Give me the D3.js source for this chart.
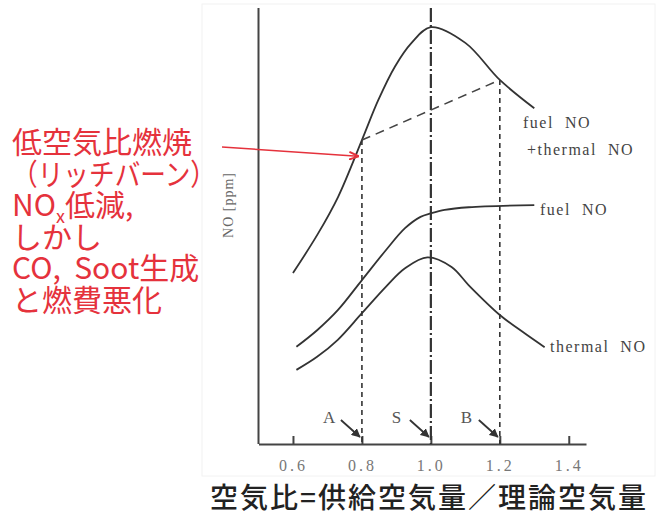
<!DOCTYPE html>
<html>
<head>
<meta charset="utf-8">
<script src="https://cdn.jsdelivr.net/npm/d3@7"></script>
<style>
  body { margin: 0; background: #fff; }
  svg { display: block; }
</style>
</head>
<body>
<svg id="chart" width="661" height="517"></svg>
<script>
// air ratio ticks
const xTicks = [0.6, 0.8, 1.0, 1.2, 1.4];

// fuel NO + thermal NO
const combinedX = [0.6, 0.673, 0.731, 0.8, 0.847, 0.896, 0.944, 1.0, 1.1, 1.2, 1.3];
const combinedNO = [39.2, 48.3, 56.7, 69.7, 78.8, 86.6, 92, 95.6, 92, 83.5, 77];

// fuel NO
const fuelX = [0.61, 0.67, 0.73, 0.8, 0.87, 0.925, 0.97, 1.0, 1.04, 1.11, 1.3];
const fuelNO = [22.3, 26.1, 30.7, 37.6, 44.5, 49.5, 52.1, 52.9, 53.7, 54.3, 54.8];

// thermal NO
const thermalX = [0.61, 0.67, 0.73, 0.8, 0.87, 0.925, 0.99, 1.06, 1.11, 1.2, 1.27, 1.33];
const thermalNO = [17, 20, 23.9, 30, 36.1, 40.3, 42.8, 40.6, 36.4, 29.6, 25.5, 22.2];

// dashed line between A and B on the combined curve
const abX = [0.8, 1.2];
const abNO = [69.7, 83.5];

// marker lines A, S, B
const markers = [
  { name: 'A', x: 0.8, top: 69.7, dash: '5,4' },
  { name: 'S', x: 1.0, top: 100, dash: '14,3,2,3' },
  { name: 'B', x: 1.2, top: 83.5, dash: '5,4' }
];

const redLines = ['低空気比燃焼', '（リッチバーン）', 'NOx低減,', 'しかし', 'CO,  Soot生成', 'と燃費悪化'];

const svg = d3.select('#chart');
const ink = '#333';
const red = '#e5323c';
const serif = '"Liberation Serif", "DejaVu Serif", serif';
const jp = '"Noto Sans CJK JP", sans-serif';

const x = d3.scaleLinear().domain([0.5, 1.45]).range([258.5, 586]);
const y = d3.scaleLinear().domain([0, 100]).range([444, 8]);

// faint scan border
svg.append('rect')
  .attr('x', 202).attr('y', 4).attr('width', 453).attr('height', 472)
  .attr('fill', 'none').attr('stroke', '#f2f2f2').attr('stroke-width', 1);

// x axis with inward ticks
const xAxis = svg.append('g')
  .attr('transform', `translate(0,${y(0)})`)
  .call(d3.axisBottom(x).tickValues(xTicks).tickSizeInner(-8).tickSizeOuter(0)
    .tickPadding(16).tickFormat(d3.format('.1f')));
xAxis.select('.domain').attr('stroke', '#444').attr('stroke-width', 2);
xAxis.selectAll('.tick line').attr('stroke', '#444').attr('stroke-width', 2);
xAxis.selectAll('.tick text')
  .attr('font-family', serif)
  .attr('font-size', 16).attr('letter-spacing', 3).attr('fill', '#777');

// y axis line (no ticks)
svg.append('line')
  .attr('x1', x(0.5)).attr('x2', x(0.5))
  .attr('y1', y(100)).attr('y2', y(0))
  .attr('stroke', '#444').attr('stroke-width', 2);

svg.append('text')
  .attr('transform', `translate(233,205) rotate(-90)`)
  .attr('text-anchor', 'middle')
  .attr('font-family', serif)
  .attr('font-size', 14).attr('letter-spacing', 1).attr('fill', '#666')
  .text('NO [ppm]');

// vertical marker lines
svg.selectAll('.marker')
  .data(markers)
  .join('line')
  .attr('class', 'marker')
  .attr('x1', d => x(d.x)).attr('x2', d => x(d.x))
  .attr('y1', d => y(d.top)).attr('y2', y(0))
  .attr('stroke', ink)
  .attr('stroke-width', d => d.name === 'S' ? 2.2 : 1.6)
  .attr('stroke-dasharray', d => d.dash);

// curves
const line = d3.line().x(d => x(d[0])).y(d => y(d[1])).curve(d3.curveCatmullRom.alpha(0.5));
const series = [
  d3.zip(combinedX, combinedNO),
  d3.zip(fuelX, fuelNO),
  d3.zip(thermalX, thermalNO)
];
svg.selectAll('.curve')
  .data(series)
  .join('path')
  .attr('class', 'curve')
  .attr('d', line)
  .attr('fill', 'none')
  .attr('stroke', ink)
  .attr('stroke-width', 1.8);

// A-B dashed chord
svg.append('path')
  .attr('d', d3.line().x(d => x(d[0])).y(d => y(d[1]))(d3.zip(abX, abNO)))
  .attr('fill', 'none')
  .attr('stroke', '#444')
  .attr('stroke-width', 1.6)
  .attr('stroke-dasharray', '9,6');

// curve labels
const curveLabels = [
  { t: 'fuel  NO', x: 523, y: 128 },
  { t: '+thermal  NO', x: 527, y: 155 },
  { t: 'fuel  NO', x: 540, y: 215 },
  { t: 'thermal  NO', x: 550, y: 352 }
];
svg.selectAll('.clabel')
  .data(curveLabels)
  .join('text')
  .attr('class', 'clabel')
  .attr('x', d => d.x).attr('y', d => d.y)
  .attr('font-family', serif).attr('font-size', 16)
  .attr('letter-spacing', 1.5)
  .attr('fill', '#444')
  .style('white-space', 'pre')
  .text(d => d.t);

// A / S / B labels with small arrows
const arrowDefs = svg.append('defs');
arrowDefs.append('marker')
  .attr('id', 'blk').attr('viewBox', '0 0 10 10').attr('refX', 9).attr('refY', 5)
  .attr('markerWidth', 5).attr('markerHeight', 5).attr('orient', 'auto')
  .append('path').attr('d', 'M0,0L10,5L0,10z').attr('fill', ink);
arrowDefs.append('marker')
  .attr('id', 'redhead').attr('viewBox', '0 0 10 10').attr('refX', 9).attr('refY', 5)
  .attr('markerWidth', 6).attr('markerHeight', 6).attr('orient', 'auto')
  .append('path').attr('d', 'M0,1L10,5L0,9').attr('fill', 'none')
  .attr('stroke', red).attr('stroke-width', 2);

const mk = svg.selectAll('.mk').data(markers).join('g').attr('class', 'mk');
mk.append('text')
  .attr('x', d => x(d.x) - 39).attr('y', 423)
  .attr('font-family', serif).attr('font-size', 17).attr('fill', '#555')
  .text(d => d.name);
mk.append('line')
  .attr('x1', d => x(d.x) - 21).attr('y1', 420)
  .attr('x2', d => x(d.x) - 2).attr('y2', 437)
  .attr('stroke', ink).attr('stroke-width', 1.8)
  .attr('marker-end', 'url(#blk)');

// red annotation
svg.append('line')
  .attr('x1', 222).attr('y1', 147)
  .attr('x2', x(0.788)).attr('y2', y(66))
  .attr('stroke', red).attr('stroke-width', 1.6)
  .attr('marker-end', 'url(#redhead)');

const redText = svg.append('text')
  .attr('font-family', jp).attr('font-size', 30).attr('fill', red)
  .style('white-space', 'pre');
redLines.forEach((s, i) => {
  const t = redText.append('tspan').attr('x', 12).attr('y', 153 + i * 31.5);
  if (s.startsWith('NOx')) {
    t.text('NO');
    redText.append('tspan').attr('dy', 7).attr('font-size', 18).text('x');
    redText.append('tspan').attr('dy', -7).text(s.slice(3));
  } else {
    t.text(s);
    if (s.startsWith('（')) t.attr('textLength', 204).attr('lengthAdjust', 'spacingAndGlyphs');
  }
});

// bottom axis title
svg.append('text')
  .attr('x', 210).attr('y', 508)
  .attr('font-family', jp).attr('font-size', 28).attr('font-weight', 500)
  .attr('fill', '#222')
  .attr('textLength', 436).attr('lengthAdjust', 'spacing')
  .text('空気比=供給空気量／理論空気量');
</script>
</body>
</html>
